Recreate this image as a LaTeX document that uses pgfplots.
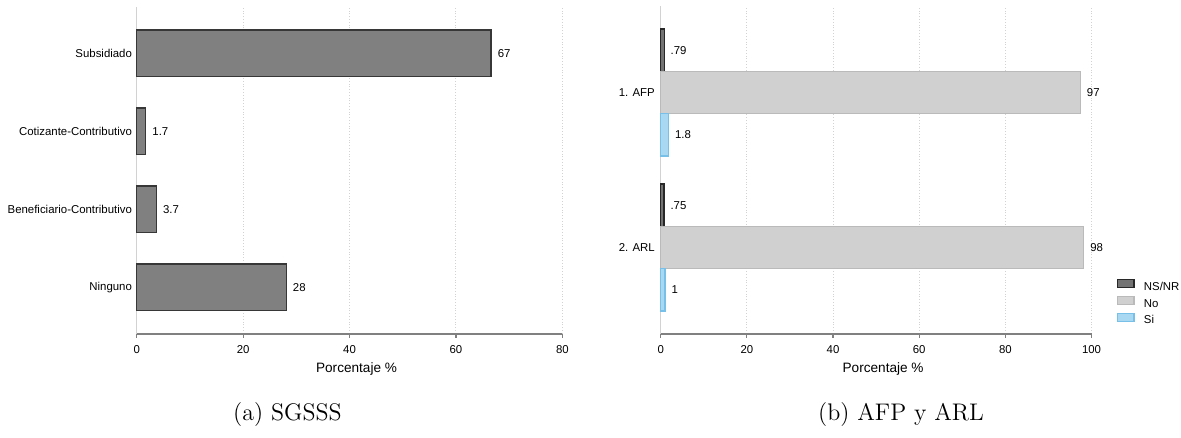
\documentclass[border=0pt]{standalone}
\usepackage{fontspec}
\usepackage{pgfplots}
\pgfplotsset{compat=1.18}
\newfontfamily\arial{Liberation Sans}
\newcommand\tickfont{\arial\fontsize{5.7}{6.8}\selectfont}
\newcommand\labfont{\arial\fontsize{6.8}{8}\selectfont}
\definecolor{barA}{RGB}{128,128,128}
\definecolor{barAedge}{RGB}{55,55,55}
\definecolor{nsnr}{RGB}{115,115,115}
\definecolor{nsnredge}{RGB}{40,40,40}
\definecolor{nofill}{RGB}{208,208,208}
\definecolor{noedge}{RGB}{186,186,186}
\definecolor{sifill}{RGB}{168,216,242}
\definecolor{siedge}{RGB}{120,192,232}
\pgfplotsset{
  mystyle/.style={
    scale only axis,
    anchor=south west,
    xbar, bar shift=0pt,
    axis x line=bottom, axis y line=left,
    x axis line style={-, draw=gray, line width=1pt},
    y axis line style={-, draw=gray!35, line width=0.6pt},
    xmajorgrids, grid style={densely dotted, gray!35, line width=0.5pt},
    tick align=outside,
    major tick length=2pt,
    xtick style={draw=gray, line width=0.6pt},
    ytick style={draw=none},
    /pgf/number format/assume math mode=true,
    xticklabel style={font=\tickfont, inner sep=0pt, yshift=-3.85pt},
    yticklabel style={font=\tickfont, inner sep=0pt, anchor=east, xshift=-0.2pt},
    xlabel={Porcentaje \%},
    xlabel style={font=\labfont, at={(axis description cs:0.5,0)}, anchor=center, yshift=-17.6pt, xshift=3.5pt},
    nodes near coords, point meta=explicit symbolic,
    every node near coord/.append style={font=\tickfont, anchor=west, inner sep=0pt, xshift=3pt},
    clip=false,
  }
}
\begin{document}
\begin{tikzpicture}
\useasboundingbox (0pt,0pt) rectangle (590.5pt,-219pt);
\begin{axis}[mystyle,
  at={(68.35pt,-166.75pt)},
  width=212.85pt, height=163.2pt,
  xmin=0, xmax=80, xtick={0,20,40,60,80},
  ymin=-0.592, ymax=3.592,
  ytick={0,1,2,3},
  yticklabels={Ninguno,Beneficiario-Contributivo,Cotizante-Contributivo,Subsidiado},
  bar width=0.596,
]
\addplot[fill=barA, draw=barAedge, line width=0.7pt] coordinates {
  (66.6,3) [67]
  (1.7,2) [1.7]
  (3.7,1) [3.7]
  (28.1,0) [28]
};
\end{axis}
\begin{axis}[mystyle,
  at={(330.35pt,-166.75pt)},
  width=215.4pt, height=163.5pt,
  xmin=0, xmax=100, xtick={0,20,40,60,80,100},
  ymin=-0.555, ymax=1.555,
  ytick={0,1},
  yticklabels={2. ARL,1. AFP},
  yticklabel style={xshift=-0.6pt},
  bar width=0.273,
  legend image code/.code={\draw[#1] (0pt,0.05pt) rectangle (8.3pt,4.05pt);},
  legend cell align=left,
  legend style={at={(1.0585,0.0932)}, anchor=west, draw=none, fill=none,
    inner sep=0pt, outer sep=0pt, font=\tickfont, row sep=1.25pt,
    nodes={inner sep=0pt},
    /tikz/every odd column/.append style={column sep=4.7pt}},
]
\addplot[fill=nsnr, draw=nsnredge, line width=0.6pt] coordinates {
  (0.79,1.273) [.79]
  (0.75,0.273) [.75]
};
\addlegendentry{NS/NR}
\addplot[fill=nofill, draw=noedge, line width=0.6pt] coordinates {
  (97.4,1) [97]
  (98.2,0) [98]
};
\addlegendentry{No}
\addplot[fill=sifill, draw=siedge, line width=0.6pt] coordinates {
  (1.8,0.727) [1.8]
  (1.0,-0.273) [1]
};
\addlegendentry{Si}
\end{axis}
\node[anchor=base, font=\fontsize{12}{14}\selectfont] at (143.75pt,-210pt) {(a) SGSSS};
\node[anchor=base, font=\fontsize{12}{14}\selectfont] at (450.5pt,-210pt) {(b) AFP y ARL};
\end{tikzpicture}
\end{document}
